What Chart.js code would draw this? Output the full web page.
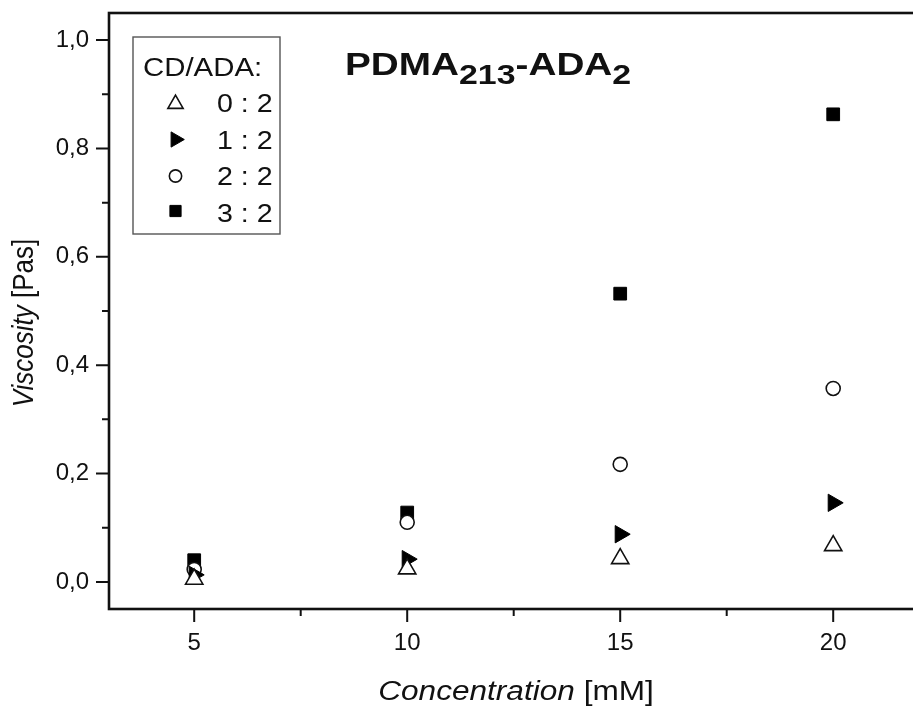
<!DOCTYPE html>
<html>
<head>
<meta charset="utf-8">
<title>PDMA213-ADA2 viscosity</title>
<script src="https://cdn.jsdelivr.net/npm/chart.js@4.4.1/dist/chart.umd.min.js"></script>
<style>
  html, body { margin: 0; padding: 0; background: #fff; overflow: hidden; }
  #wrap { width: 930px; height: 707px; }
</style>
</head>
<body>
<div id="wrap"><canvas id="viscosityChart" width="930" height="707"></canvas></div>
<script>
// ==================== DATOS ====================
const concentrations = [5, 10, 15, 20];            // mM
const ratio02 = [0.005, 0.024, 0.043, 0.067];      // CD/ADA 0:2
const ratio12 = [0.013, 0.042, 0.088, 0.146];      // CD/ADA 1:2
const ratio22 = [0.023, 0.110, 0.217, 0.357];      // CD/ADA 2:2
const ratio32 = [0.040, 0.128, 0.532, 0.863];      // CD/ADA 3:2
const seriesLabels = ['0 : 2', '1 : 2', '2 : 2', '3 : 2'];

const xTicks = [5, 10, 15, 20];
const xMinorTicks = [7.5, 12.5, 17.5];
const yTicks = [0, 0.2, 0.4, 0.6, 0.8, 1.0];
const yMinorTicks = [0.1, 0.3, 0.5, 0.7, 0.9];

const FONT = "'Liberation Sans', Arial, Helvetica, sans-serif";
const INK = '#111';

function toPoints(values) {
    return concentrations.map((c, i) => ({ x: c, y: values[i] }));
}

// texto con un ligero estiramiento horizontal (la figura original está ensanchada)
function stretchedText(ctx, text, x, y, font, sx) {
    ctx.save();
    ctx.font = font;
    ctx.translate(x, y);
    ctx.scale(sx, 1);
    ctx.fillText(text, 0, 0);
    const w = ctx.measureText(text).width * sx;
    ctx.restore();
    return w;
}

// --- marco completo y marcas de los ejes (mayores y menores) ---
const framePlugin = {
    id: 'frame',
    afterDatasetsDraw(chart) {
        const { ctx, chartArea: a, scales: { x, y } } = chart;
        ctx.save();
        ctx.strokeStyle = INK;
        ctx.lineWidth = 2;
        ctx.beginPath();
        xTicks.forEach(v => { const px = x.getPixelForValue(v); ctx.moveTo(px, a.bottom); ctx.lineTo(px, a.bottom + 13); });
        xMinorTicks.forEach(v => { const px = x.getPixelForValue(v); ctx.moveTo(px, a.bottom); ctx.lineTo(px, a.bottom + 7); });
        yTicks.forEach(v => { const py = y.getPixelForValue(v); ctx.moveTo(a.left, py); ctx.lineTo(a.left - 13, py); });
        yMinorTicks.forEach(v => { const py = y.getPixelForValue(v); ctx.moveTo(a.left, py); ctx.lineTo(a.left - 7, py); });
        ctx.stroke();
        ctx.lineWidth = 2.6;
        ctx.strokeRect(a.left, a.top, a.right - a.left, a.bottom - a.top);
        ctx.restore();
    }
};

// --- título con subíndices, títulos de ejes y leyenda en recuadro ---
const annotationsPlugin = {
    id: 'annotations',
    afterDraw(chart) {
        const { ctx } = chart;
        ctx.save();
        ctx.fillStyle = INK;
        ctx.textBaseline = 'alphabetic';
        ctx.textAlign = 'left';

        // Título: PDMA213-ADA2
        const big = `bold 32px ${FONT}`, sub = `bold 28px ${FONT}`, sx = 1.21;
        let tx = 345;
        tx += stretchedText(ctx, 'PDMA', tx, 75, big, sx);
        tx += stretchedText(ctx, '213', tx, 84, sub, sx);
        tx += stretchedText(ctx, '-ADA', tx, 75, big, sx);
        stretchedText(ctx, '2', tx, 84, sub, sx);

        // Eje X: Concentration [mM]
        const ital = `italic 27px ${FONT}`, norm = `27px ${FONT}`;
        ctx.font = ital;
        const w1 = ctx.measureText('Concentration').width * 1.17;
        ctx.font = norm;
        const w2 = ctx.measureText(' [mM]').width * 1.17;
        let cx = 516 - (w1 + w2) / 2;
        cx += stretchedText(ctx, 'Concentration', cx, 700, ital, 1.17);
        stretchedText(ctx, ' [mM]', cx, 700, norm, 1.17);

        // Eje Y: Viscosity [Pas]
        ctx.save();
        ctx.translate(33, 323);
        ctx.rotate(-Math.PI / 2);
        ctx.scale(1, 1.1);
        const yi = `italic 26px ${FONT}`, yn = `26px ${FONT}`;
        ctx.font = yi;
        const v1 = ctx.measureText('Viscosity').width;
        ctx.font = yn;
        const v2 = ctx.measureText(' [Pas]').width;
        ctx.font = yi;
        ctx.fillText('Viscosity', -(v1 + v2) / 2, 0);
        ctx.font = yn;
        ctx.fillText(' [Pas]', -(v1 + v2) / 2 + v1, 0);
        ctx.restore();

        // Leyenda
        ctx.fillStyle = '#fff';
        ctx.fillRect(133, 37, 147, 197);
        ctx.strokeStyle = '#555';
        ctx.lineWidth = 1.4;
        ctx.strokeRect(133, 37, 147, 197);
        ctx.fillStyle = INK;
        stretchedText(ctx, 'CD/ADA:', 143, 76, `26px ${FONT}`, 1.13);

        const rowY = [112, 148.5, 185, 222];
        const markerY = [104, 139.5, 176, 211];
        chart.data.datasets.forEach((ds, i) => {
            ctx.fillStyle = INK;
            stretchedText(ctx, seriesLabels[i], 217, rowY[i], `26px ${FONT}`, 1.1);
            ctx.save();
            ctx.fillStyle = ds.backgroundColor;
            ctx.strokeStyle = ds.borderColor;
            ctx.lineWidth = ds.borderWidth;
            Chart.helpers.drawPoint(ctx, {
                pointStyle: ds.pointStyle,
                radius: ds.pointRadius * 0.88,
                rotation: ds.pointRotation || 0,
                borderWidth: ds.borderWidth
            }, 175.5, markerY[i]);
            ctx.restore();
        });
        ctx.restore();
    }
};

const ctx = document.getElementById('viscosityChart').getContext('2d');
new Chart(ctx, {
    type: 'scatter',
    data: {
        datasets: [
            { label: seriesLabels[0], data: toPoints(ratio02), pointStyle: 'triangle', pointRadius: 10,
              backgroundColor: '#fff', borderColor: INK, borderWidth: 1.6 },
            { label: seriesLabels[1], data: toPoints(ratio12), pointStyle: 'triangle', pointRotation: 90, pointRadius: 10,
              backgroundColor: '#000', borderColor: '#000', borderWidth: 1 },
            { label: seriesLabels[2], data: toPoints(ratio22), pointStyle: 'circle', pointRadius: 7,
              backgroundColor: '#fff', borderColor: INK, borderWidth: 1.6 },
            { label: seriesLabels[3], data: toPoints(ratio32), pointStyle: 'rect', pointRadius: 9,
              backgroundColor: '#000', borderColor: '#000', borderWidth: 1 }
        ]
    },
    options: {
        responsive: false,
        animation: false,
        devicePixelRatio: 1,
        events: [],
        layout: { padding: { top: 13, right: 8, left: 0, bottom: 0 } },
        plugins: { legend: { display: false }, tooltip: { enabled: false }, title: { display: false } },
        scales: {
            x: {
                type: 'linear', min: 3, max: 22,
                grid: { display: false, drawTicks: false },
                border: { display: false },
                ticks: { padding: 20, color: INK, font: { family: FONT, size: 24 }, maxRotation: 0,
                         callback: v => String(v) },
                afterBuildTicks: s => { s.ticks = xTicks.map(v => ({ value: v })); },
                afterFit: s => { s.height = 98; s.paddingLeft = 0; s.paddingRight = 0; }
            },
            y: {
                type: 'linear', min: -0.05, max: 1.05,
                grid: { display: false, drawTicks: false },
                border: { display: false },
                ticks: { padding: 20, color: INK, font: { family: FONT, size: 24 },
                         callback: v => v.toFixed(1).replace('.', ',') },
                afterBuildTicks: s => { s.ticks = yTicks.map(v => ({ value: v })); },
                afterFit: s => { s.width = 109; s.paddingTop = 0; s.paddingBottom = 0; }
            }
        }
    },
    plugins: [framePlugin, annotationsPlugin]
});
</script>
</body>
</html>
